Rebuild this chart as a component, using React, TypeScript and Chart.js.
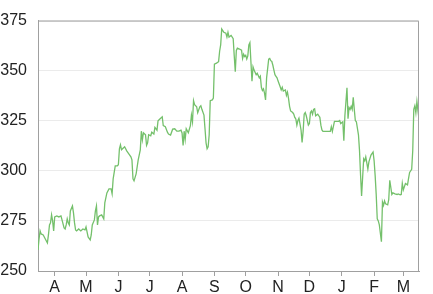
import React, { useEffect, useRef } from "react";
import { Chart, registerables } from "chart.js";

Chart.register(...registerables);

// Calendar day offsets from the first observation (mid-March)
const dayOffsets = [
  0, 1, 2, 3, 5, 7, 9, 10, 11, 12, 13, 14, 15, 16, 18, 20, 22, 23, 25, 26, 27, 28, 29, 30, 31, 33, 34, 35, 36, 37,
  39, 41, 43, 45, 46, 48, 50, 51, 52, 54, 55, 56, 57, 58, 59, 61, 62, 63, 64, 66, 68, 70, 71, 72, 74, 76, 77, 78, 79, 80,
  81, 83, 85, 87, 89, 90, 91, 92, 94, 96, 98, 99, 100, 101, 103, 104, 105, 106, 108, 109, 111, 112, 114, 115, 117, 119, 120, 122, 124, 125,
  127, 129, 131, 133, 135, 137, 138, 139, 140, 141, 142, 144, 146, 147, 148, 149, 150, 152, 153, 155, 156, 157, 159, 160, 161, 162, 163, 164, 165, 167,
  168, 169, 171, 173, 174, 175, 176, 177, 178, 180, 181, 182, 183, 185, 187, 188, 189, 190, 191, 193, 195, 196, 197, 198, 199, 200, 201, 202, 203, 204,
  205, 206, 207, 209, 210, 212, 213, 214, 215, 216, 217, 218, 219, 221, 222, 223, 224, 225, 226, 227, 228, 229, 230, 232, 233, 234, 235, 237, 238, 239,
  240, 241, 242, 244, 245, 246, 247, 248, 249, 250, 252, 253, 254, 255, 256, 257, 259, 260, 261, 262, 263, 264, 265, 266, 268, 269, 270, 271, 272, 273,
  277, 280, 281, 282, 284, 288, 289, 290, 292, 293, 294, 296, 297, 298, 299, 300, 301, 302, 303, 304, 305, 307, 308, 309, 310, 312, 313, 314, 315, 316,
  317, 319, 321, 322, 323, 324, 325, 326, 327, 329, 330, 331, 332, 333, 335, 336, 337, 339, 340, 342, 344, 345, 347, 348, 349, 350, 352, 354, 355, 356,
  358, 359, 360, 361, 362, 363, 364, 365,
];

// Closing values
const closes = [
  260.5, 266, 270, 268.5, 268, 266, 264, 268, 273, 274, 278, 275, 270, 277, 277.5, 277, 277.5, 275.5, 271.5, 271, 273, 276, 274, 273, 280, 282.5, 279, 274, 270.5, 270,
  271, 270, 271, 270.5, 272, 267, 265.5, 268, 273, 275.5, 280, 282.5, 273, 277, 277.5, 278, 277, 276, 284, 289, 291, 291, 288.5, 296, 302.5, 302.5, 303, 311, 313, 310.5,
  311, 312, 310, 308.5, 307, 305.5, 296, 295, 298.5, 305.5, 310.5, 319.8, 315.5, 319, 318, 312.7, 314, 318, 317.5, 319.3, 318.4, 321.7, 320.3, 325, 326, 327, 322.6, 322, 319.3, 318.4,
  317.9, 320.8, 321, 319.8, 319.8, 320.3, 318.9, 312.7, 319.8, 315.6, 321, 319, 322.6, 327.8, 324.5, 335, 333, 332, 329, 332, 332.5, 330.7, 327.8, 321, 314, 311, 312, 318, 335, 335.4,
  336.3, 353.3, 353.8, 354.5, 359.7, 362.9, 370.8, 370, 369.2, 368.7, 366.8, 369.2, 366.8, 367.6, 366, 357.4, 349.5, 360.1, 361.3, 360.8, 360.2, 356.1, 358.2, 357.1, 357.7, 355.8, 357.4, 362.9, 364, 354.2,
  344.8, 351.9, 350.3, 348, 348.7, 346.4, 347.2, 341.7, 340.1, 340.9, 338.8, 335.4, 346.4, 355.8, 356.1, 355, 354.6, 352.7, 350.3, 348, 347.2, 346.4, 344.8, 342, 340.4, 341.7, 339.8, 340.4, 337.7, 339.3,
  336.2, 332.2, 329.9, 329.1, 328.3, 326.7, 325.9, 322.8, 325.1, 326.3, 320.4, 314.2, 319.7, 328.3, 329.1, 327.5, 322.8, 323.6, 329.1, 329.9, 328.3, 330.7, 331, 327.5, 328.3, 327.5, 326.7, 322.8, 320.4, 319.7,
  319.7, 319.7, 322, 319.7, 324.7, 324.7, 325.1, 323.6, 324.5, 315, 327.5, 341.5, 326, 331.6, 330.7, 332.2, 330.7, 336.7, 330.7, 325.1, 324.5, 318, 310.2, 298, 287.4, 306, 305, 307, 304, 300.9,
  304.5, 307.9, 309.4, 305, 297.6, 288.2, 276, 275, 273, 264.6, 284.4, 282.7, 285, 283.5, 283, 285.6, 295.3, 288.2, 289, 288.5, 288.2, 288.5, 288, 288.2, 293.7, 290.5, 293.7, 293, 296.2, 299.2,
  300.8, 310, 330.7, 332.5, 329, 334.6, 330, 326,
];

// Month start tick positions (day offsets) and labels
const monthTickDays = [16, 46, 77, 107, 138, 169, 199, 230, 260, 291, 322, 350];
const monthLabels = ["A", "M", "J", "J", "A", "S", "O", "N", "D", "J", "F", "M"];

const yTicks = [250, 275, 300, 325, 350, 375];

const frameBorder = {
  id: "frameBorder",
  afterDraw(chart: any) {
    const { ctx, chartArea } = chart;
    ctx.save();
    ctx.strokeStyle = "#a0a0a0";
    ctx.lineWidth = 1;
    ctx.beginPath();
    ctx.moveTo(chartArea.left, chartArea.top + 0.5);
    ctx.lineTo(chartArea.right - 0.5, chartArea.top + 0.5);
    ctx.lineTo(chartArea.right - 0.5, chartArea.bottom);
    ctx.stroke();
    ctx.restore();
  },
};

export default function App() {
  const ref = useRef<HTMLCanvasElement | null>(null);

  useEffect(() => {
    if (!ref.current) return;
    const points = dayOffsets.map((d, i) => ({ x: d, y: closes[i] }));
    const font = { family: "'Liberation Sans', Arial, sans-serif", size: 16 };
    const chart = new Chart(ref.current, {
      type: "line",
      data: {
        datasets: [
          {
            data: points,
            borderColor: "#74c06b",
            borderWidth: 1.3,
            pointRadius: 0,
            tension: 0,
            fill: false,
          },
        ],
      },
      options: {
        animation: false,
        responsive: false,
        devicePixelRatio: 1,
        layout: { padding: { top: 6, right: 14, left: 0, bottom: 0 } },
        plugins: { legend: { display: false }, tooltip: { enabled: false } },
        scales: {
          x: {
            type: "linear",
            min: 0,
            max: 365,
            afterBuildTicks: (scale: any) => {
              scale.ticks = monthTickDays.map((v) => ({ value: v }));
            },
            afterFit: (scale: any) => {
              scale.height = 23;
            },
            ticks: {
              autoSkip: false,
              maxRotation: 0,
              padding: 2,
              color: "#222",
              font,
              callback: (_v: any, i: number) => monthLabels[i],
            },
            grid: {
              drawOnChartArea: false,
              drawTicks: true,
              tickLength: 5,
              color: "#a0a0a0",
            },
            border: { color: "#a0a0a0" },
          },
          y: {
            type: "linear",
            min: 250,
            max: 375,
            afterBuildTicks: (scale: any) => {
              scale.ticks = yTicks.map((v) => ({ value: v }));
            },
            afterFit: (scale: any) => {
              scale.width = 38;
            },
            ticks: { padding: 11, color: "#222", font },
            grid: { color: "#ebebeb", drawTicks: false },
            border: { color: "#a0a0a0" },
          },
        },
      },
      plugins: [frameBorder],
    });
    return () => chart.destroy();
  }, []);

  return (
    <div style={{ position: "fixed", left: 0, top: 0, width: 433, height: 294, background: "#fff" }}>
      <canvas ref={ref} width={433} height={294} style={{ display: "block" }} />
    </div>
  );
}
